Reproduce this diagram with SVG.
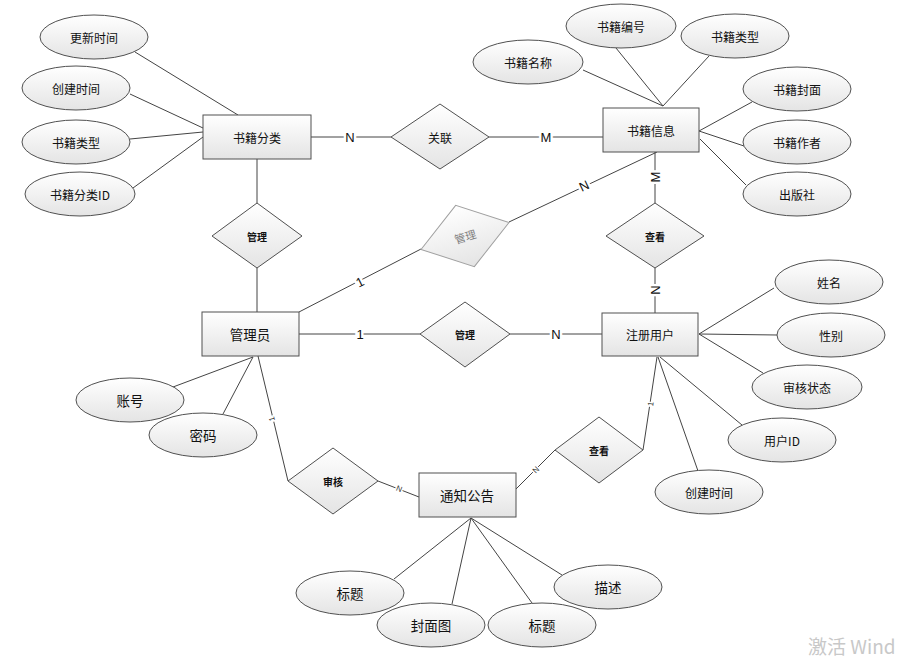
<svg xmlns="http://www.w3.org/2000/svg" width="901" height="664" viewBox="0 0 901 664">
<defs>
<linearGradient id="g" x1="0" y1="0" x2="0" y2="1">
<stop offset="0" stop-color="#ffffff"/>
<stop offset="1" stop-color="#e4e4e4"/>
</linearGradient>
</defs>
<style>
.shape{fill:url(#g);stroke:#505050;stroke-width:1}
.faint{fill:url(#g);stroke:#a0a0a0;stroke-width:1}
text{font-family:"Noto Sans CJK SC","Noto Sans",sans-serif;text-anchor:middle;dominant-baseline:central;fill:#111}
.t12{font-size:12px}
.t13{font-size:13.5px}
.td{font-size:10px;font-weight:bold}
.card{font-family:"Liberation Sans",Arial,sans-serif;font-size:13px;paint-order:stroke;stroke:#fff;stroke-width:5px;fill:#111}
.cs{font-family:"Liberation Sans",Arial,sans-serif;font-size:8px;paint-order:stroke;stroke:#fff;stroke-width:3px;fill:#333}
.conn line{stroke:#444;stroke-width:1}
</style>
<rect width="901" height="664" fill="#ffffff"/>
<g id="connectors" class="conn">
<line x1="135" y1="52" x2="238" y2="115"/>
<line x1="130" y1="94" x2="203" y2="128"/>
<line x1="130" y1="139" x2="203" y2="132"/>
<line x1="133" y1="188" x2="203" y2="137"/>
<line x1="311" y1="137" x2="391" y2="137"/>
<line x1="489" y1="137" x2="603" y2="137"/>
<line x1="257" y1="159" x2="257" y2="203"/>
<line x1="257" y1="268" x2="257" y2="312"/>
<line x1="583" y1="70" x2="663" y2="106"/>
<line x1="616" y1="48" x2="663" y2="106"/>
<line x1="709" y1="56" x2="663" y2="106"/>
<line x1="752" y1="102" x2="699" y2="131"/>
<line x1="699" y1="131" x2="744" y2="146"/>
<line x1="700" y1="139" x2="746" y2="185"/>
<line x1="657" y1="152" x2="509" y2="222"/>
<line x1="655" y1="152" x2="655" y2="203"/>
<line x1="299" y1="312" x2="421" y2="249"/>
<line x1="299" y1="334" x2="420" y2="334"/>
<line x1="510" y1="334" x2="602" y2="334"/>
<line x1="655" y1="268" x2="655" y2="313"/>
<line x1="699" y1="334" x2="774" y2="288"/>
<line x1="699" y1="334" x2="777" y2="335"/>
<line x1="699" y1="334" x2="763" y2="373"/>
<line x1="660" y1="357" x2="742" y2="425"/>
<line x1="658" y1="357" x2="698" y2="471"/>
<line x1="657" y1="357" x2="643" y2="450"/>
<line x1="173" y1="387" x2="253" y2="357"/>
<line x1="223" y1="414" x2="253" y2="357"/>
<line x1="258" y1="356" x2="288" y2="481"/>
<line x1="378" y1="481" x2="419" y2="497"/>
<line x1="516" y1="489" x2="555" y2="450"/>
<line x1="471" y1="518" x2="394" y2="579"/>
<line x1="471" y1="518" x2="452" y2="604"/>
<line x1="471" y1="518" x2="532" y2="603"/>
<line x1="471" y1="518" x2="562" y2="575"/>
<text class="card" x="350" y="137">N</text>
<text class="card" x="546" y="137">M</text>
<text class="card" x="584" y="186" transform="rotate(-25 584 186)">N</text>
<text class="card" x="655" y="177" transform="rotate(-90 655 177)">M</text>
<text class="card" x="360" y="282" transform="rotate(-27 360 282)">1</text>
<text class="card" x="360" y="334">1</text>
<text class="card" x="556" y="334">N</text>
<text class="card" x="655" y="290" transform="rotate(-90 655 290)">N</text>
<text class="cs" x="651" y="404" transform="rotate(-81 651 404)">1</text>
<text class="cs" x="272" y="419" transform="rotate(-104 272 419)">1</text>
<text class="cs" x="399" y="489" transform="rotate(21 399 489)">N</text>
<text class="cs" x="536" y="470" transform="rotate(-45 536 470)">N</text>
</g>
<g id="e-shujifenlei"><rect class="shape" x="203" y="115" width="108" height="44"/><text class="t12" x="257" y="137">书籍分类</text></g>
<g id="e-shujixinxi"><rect class="shape" x="603" y="108" width="96" height="44"/><text class="t12" x="651" y="130">书籍信息</text></g>
<g id="e-guanliyuan"><rect class="shape" x="202" y="312" width="97" height="44"/><text class="t13" x="250" y="334">管理员</text></g>
<g id="e-zhuceyonghu"><rect class="shape" x="602" y="313" width="96" height="43"/><text class="t12" x="650" y="334">注册用户</text></g>
<g id="e-tongzhigonggao"><rect class="shape" x="419" y="473" width="97" height="44"/><text class="t13" x="467" y="495">通知公告</text></g>
<g id="r-guanlian"><polygon class="shape" points="391,137 440,104 489,137 440,169"/><text class="t12" x="440" y="137">关联</text></g>
<g id="r-guanli1"><polygon class="shape" points="212,236 257,203 302,236 257,268"/><text class="td" x="257" y="236">管理</text></g>
<g id="r-guanli2" transform="rotate(-17 465 236)"><polygon class="faint" points="419,236 465,204 511,236 465,268"/><text x="465" y="236" style="font-size:11px;fill:#808080">管理</text></g>
<g id="r-guanli3"><polygon class="shape" points="420,334 465,302 510,334 465,367"/><text class="td" x="465" y="334">管理</text></g>
<g id="r-chakan1"><polygon class="shape" points="606,236 655,203 704,236 655,268"/><text class="td" x="655" y="236">查看</text></g>
<g id="r-chakan2"><polygon class="shape" points="555,450 599,417 643,450 599,483"/><text class="td" x="599" y="450">查看</text></g>
<g id="r-shenhe"><polygon class="shape" points="288,481 333,448 378,481 333,514"/><text class="td" x="333" y="481">审核</text></g>
<g id="a-gengxinshijian"><ellipse class="shape" cx="94" cy="37" rx="54" ry="22"/><text class="t12" x="94" y="37">更新时间</text></g>
<g id="a-chuangjianshijian1"><ellipse class="shape" cx="76" cy="88" rx="54" ry="22"/><text class="t12" x="76" y="88">创建时间</text></g>
<g id="a-shujileixing1"><ellipse class="shape" cx="76" cy="142" rx="54" ry="22"/><text class="t12" x="76" y="142">书籍类型</text></g>
<g id="a-fenleiid"><ellipse class="shape" cx="80" cy="194" rx="55" ry="22"/><text class="t12" x="80" y="194">书籍分类ID</text></g>
<g id="a-shujimingcheng"><ellipse class="shape" cx="528" cy="62" rx="55" ry="22"/><text class="t12" x="528" y="62">书籍名称</text></g>
<g id="a-shujibianhao"><ellipse class="shape" cx="621" cy="26" rx="55" ry="22"/><text class="t12" x="621" y="26">书籍编号</text></g>
<g id="a-shujileixing2"><ellipse class="shape" cx="735" cy="36" rx="54" ry="22"/><text class="t12" x="735" y="36">书籍类型</text></g>
<g id="a-shujifengmian"><ellipse class="shape" cx="797" cy="89" rx="54" ry="22"/><text class="t12" x="797" y="89">书籍封面</text></g>
<g id="a-shujizuozhe"><ellipse class="shape" cx="797" cy="142" rx="54" ry="22"/><text class="t12" x="797" y="142">书籍作者</text></g>
<g id="a-chubanshe"><ellipse class="shape" cx="797" cy="194" rx="54" ry="22"/><text class="t12" x="797" y="194">出版社</text></g>
<g id="a-xingming"><ellipse class="shape" cx="829" cy="282" rx="54" ry="22"/><text class="t12" x="829" y="282">姓名</text></g>
<g id="a-xingbie"><ellipse class="shape" cx="831" cy="335" rx="54" ry="22"/><text class="t12" x="831" y="335">性别</text></g>
<g id="a-shenhezhuangtai"><ellipse class="shape" cx="807" cy="387" rx="55" ry="22"/><text class="t12" x="807" y="387">审核状态</text></g>
<g id="a-yonghuid"><ellipse class="shape" cx="782" cy="440" rx="54" ry="22"/><text class="t12" x="782" y="440">用户ID</text></g>
<g id="a-chuangjianshijian2"><ellipse class="shape" cx="709" cy="492" rx="54" ry="22"/><text class="t12" x="709" y="492">创建时间</text></g>
<g id="a-zhanghao"><ellipse class="shape" cx="130" cy="400" rx="54" ry="22"/><text class="t13" x="130" y="400">账号</text></g>
<g id="a-mima"><ellipse class="shape" cx="203" cy="435" rx="54" ry="22"/><text class="t13" x="203" y="435">密码</text></g>
<g id="a-biaoti1"><ellipse class="shape" cx="350" cy="593" rx="54" ry="22"/><text class="t13" x="350" y="593">标题</text></g>
<g id="a-fengmiantu"><ellipse class="shape" cx="431" cy="625" rx="54" ry="22"/><text class="t13" x="431" y="625">封面图</text></g>
<g id="a-biaoti2"><ellipse class="shape" cx="542" cy="625" rx="54" ry="22"/><text class="t13" x="542" y="625">标题</text></g>
<g id="a-miaoshu"><ellipse class="shape" cx="608" cy="587" rx="54" ry="22"/><text class="t13" x="608" y="587">描述</text></g>
<text x="808" y="645" style="font-size:19px;fill:#c8c8c8;text-anchor:start">激活 Wind</text>
</svg>
